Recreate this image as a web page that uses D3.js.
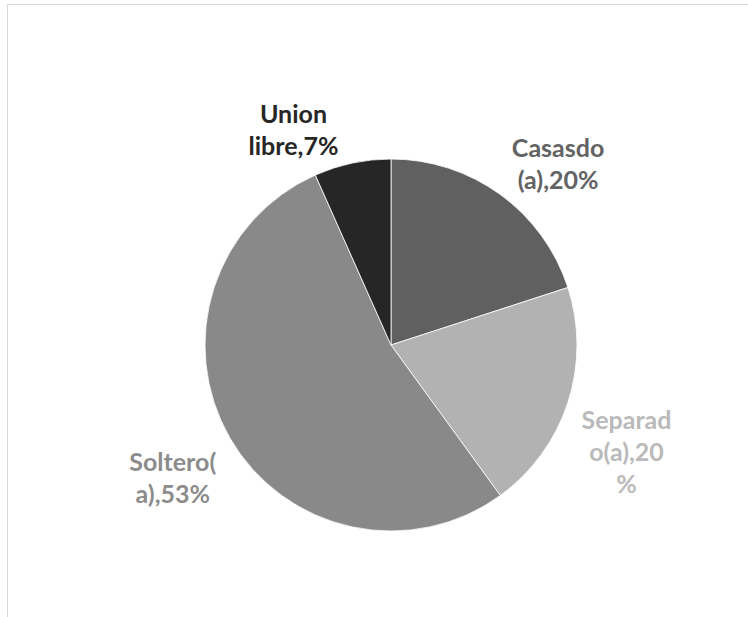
<!DOCTYPE html>
<html>
<head>
<meta charset="utf-8">
<script src="https://cdn.jsdelivr.net/npm/d3@7"></script>
<style>
  body { margin: 0; background: #ffffff; }
  svg { display: block; }
</style>
</head>
<body>
<svg class="svg1" width="748" height="617"></svg>
<script>
// chart data (slice order: clockwise from 12 o'clock)
var categories = ["Casasdo (a)", "Separado(a)", "Soltero(a)", "Union libre"];
var counts = [3, 3, 8, 1];
var labelLines = [
    ["Casasdo", "(a),20%"],
    ["Separad", "o(a),20", "%"],
    ["Soltero(", "a),53%"],
    ["Union", "libre,7%"]
];
var sliceColors = ["#606060", "#b2b2b2", "#898989", "#262626"];
var labelColors = ["#636363", "#bababa", "#8c8c8c", "#262626"];

var WIDTH = 748, HEIGHT = 617;
var CX = 391, CY = 345, RADIUS = 186;
var LINE_H = 32;

var svg1 = d3.select(".svg1");

// chart area frame
svg1.append("rect")
    .attr("x", 7.5)
    .attr("y", 4.5)
    .attr("width", 745)
    .attr("height", 620)
    .attr("fill", "#ffffff")
    .attr("stroke", "#d9d9d9")
    .attr("stroke-width", 1);

var data = categories.map(function(c, i) {
    return { name: c, value: counts[i], lines: labelLines[i],
             color: sliceColors[i], labelColor: labelColors[i] };
});

var pie = d3.pie()
    .sort(null)
    .value(function(d) { return d.value; });

var arc = d3.arc()
    .innerRadius(0)
    .outerRadius(RADIUS);

var g = svg1.append("g")
    .attr("transform", "translate(" + CX + "," + CY + ")");

var arcs = pie(data);

g.selectAll(".slice")
    .data(arcs)
    .enter()
    .append("path")
    .attr("class", "slice")
    .attr("d", arc)
    .attr("fill", function(d) { return d.data.color; })
    .attr("stroke", "#ffffff")
    .attr("stroke-width", 0.8);

// labels sit outside the pie, radius + nudge per slice like excel's best fit
var labelRadius = [223, 255, 252, 219];
var labelShift = [[36, 0], [-7, 29], [0, 8], [-52, 0]];

var labelPos = function(d, i) {
    var a = (d.startAngle + d.endAngle) / 2;
    var r = labelRadius[i];
    return [Math.sin(a) * r + labelShift[i][0], -Math.cos(a) * r + labelShift[i][1]];
};

g.selectAll(".label")
    .data(arcs)
    .enter()
    .append("text")
    .attr("class", "label")
    .attr("text-anchor", "middle")
    .style("font-family", "Lato, 'Open Sans', sans-serif")
    .style("font-weight", "bold")
    .style("font-size", "25px")
    .attr("fill", function(d) { return d.data.labelColor; })
    .each(function(d, i) {
        var p = labelPos(d, i);
        var n = d.data.lines.length;
        var txt = d3.select(this);
        d.data.lines.forEach(function(line, j) {
            txt.append("tspan")
                .attr("x", p[0])
                .attr("y", p[1] + (j - (n - 1) / 2) * LINE_H + 8)
                .text(line);
        });
    });
</script>
</body>
</html>
